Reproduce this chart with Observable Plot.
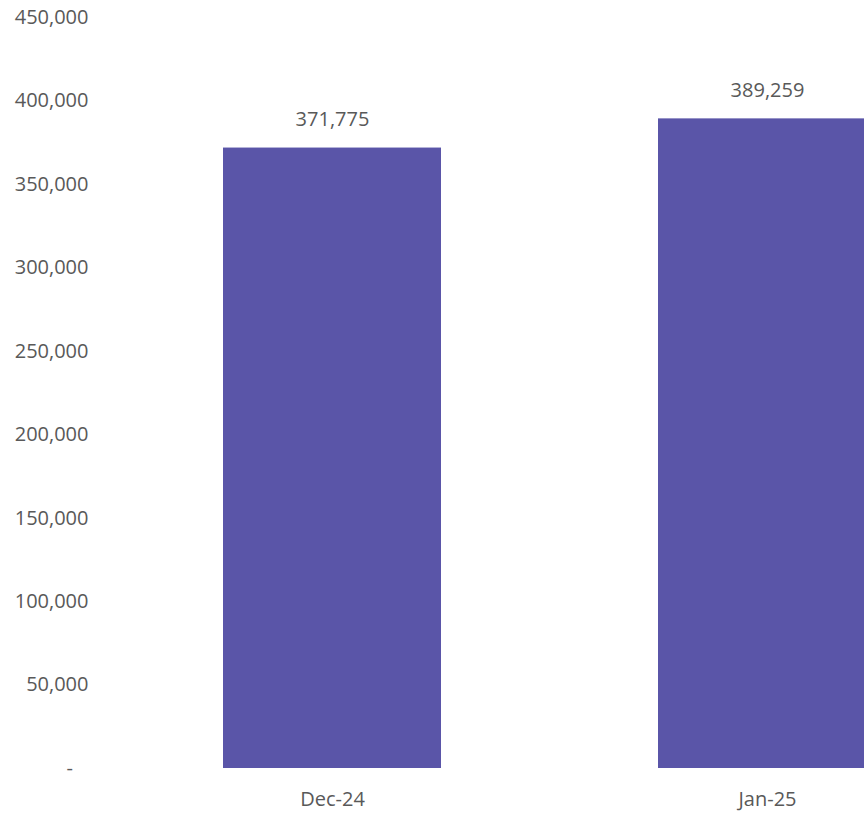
<!DOCTYPE html>
<html>
<head>
<meta charset="utf-8">
<script src="https://cdn.jsdelivr.net/npm/d3@7"></script>
<script src="https://cdn.jsdelivr.net/npm/@observablehq/plot@0.6"></script>
<style>
  html, body { margin: 0; padding: 0; background: #fff; overflow: hidden; }
  #chart svg { overflow: hidden; }
</style>
</head>
<body>
<div id="chart"></div>
<script>
const months = ["Dec-24", "Jan-25"];
const values = [371775, 389259];
const yTicks = [0, 50000, 100000, 150000, 200000, 250000, 300000, 350000, 400000, 450000];

const data = months.map((m, i) => ({month: m, value: values[i]}));
const textColor = "#595959";
const fmt = d3.format(",");

const chart = Plot.plot({
  width: 864,
  height: 814,
  marginTop: 17,
  marginBottom: 46,
  marginLeft: 96,
  marginRight: 0,
  style: {fontFamily: "'Open Sans', sans-serif", fontSize: "20px", color: textColor, background: "#fff"},
  x: {domain: months, range: [5.5, 1093], paddingInner: 0.5, paddingOuter: 0.5},
  y: {domain: [0, 450000]},
  marks: [
    Plot.barY(data, {x: "month", y: "value", fill: "#5a55a8"}),
    Plot.text(data, {x: "month", y: "value", text: d => fmt(d.value), dy: -28, fill: textColor, fontSize: 20}),
    Plot.axisY({ticks: yTicks, tickSize: 0, tickPadding: 8, label: null, fill: textColor, fontSize: 20,
      tickFormat: d => d === 0 ? "-\u00a0\u00a0\u00a0" : fmt(d)}),
    Plot.axisX({tickSize: 0, tickPadding: 23, label: null, fill: textColor, fontSize: 20})
  ]
});
document.getElementById("chart").appendChild(chart);
</script>
</body>
</html>
